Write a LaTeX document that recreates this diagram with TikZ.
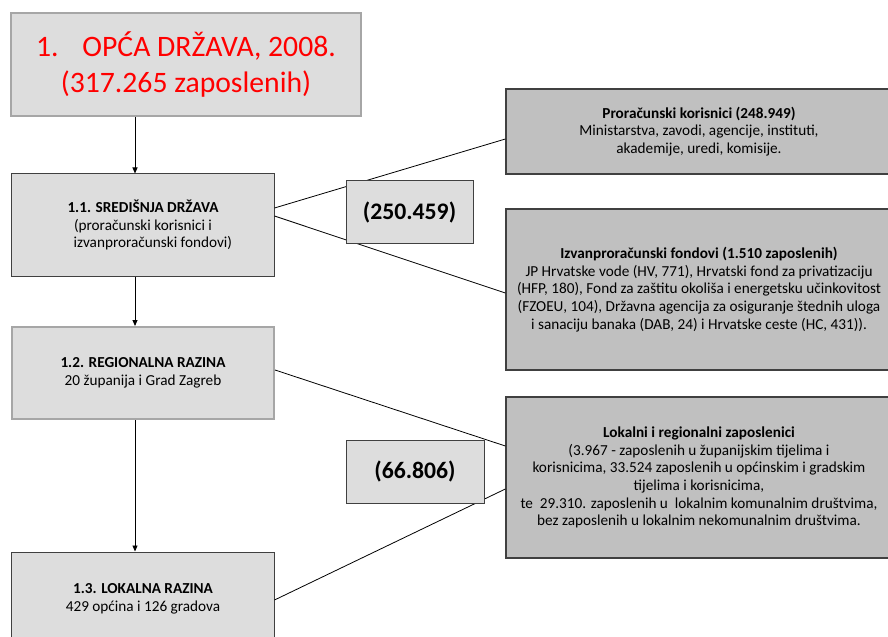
\documentclass[tikz,border=0pt]{standalone}
\usepackage{fontspec}
\setmainfont{Carlito}
\usepackage{xcolor}
\usetikzlibrary{arrows.meta}

\definecolor{boxlight}{HTML}{DDDDDD}
\definecolor{boxdark}{HTML}{C0C0C0}
\definecolor{edgegray}{HTML}{A6A6A6}
\definecolor{edgedark}{HTML}{404040}

\begin{document}
\begin{tikzpicture}[x=1bp,y=-1bp,
    lightbox/.style={draw=edgedark, line width=1bp, fill=boxlight, inner sep=0pt,
      align=center, font=\fontsize{15.3}{17.8}\selectfont},
    greybox/.style={lightbox, draw=edgegray, line width=2bp},
    sidebox/.style={lightbox, fill=boxdark, line width=1.3bp},
    sumbox/.style={lightbox, font=\fontsize{23.8}{28}\selectfont\bfseries},
    link/.style={line width=0.8bp, black},
    down/.style={line width=0.9bp, -{Triangle[length=6bp,width=5bp]}}]
    \useasboundingbox (0,0) rectangle (888,637);
    \coordinate (col) at (135,0);
    % main column
    \node[greybox, minimum width=350bp, minimum height=103bp,
      font=\fontsize{29.8}{37}\selectfont, text=red] (opca) at (186,64.5)
      {1.\hspace{0.8em}OPĆA DRŽAVA, 2008.\\(317.265 zaposlenih)};
    \node[lightbox, minimum width=262bp, minimum height=102bp] (sdr) at (143,225)
      {\textbf{1.1. SREDIŠNJA DRŽAVA}\\(proračunski korisnici i\\\hspace*{1.3em}izvanproračunski fondovi)};
    \node[greybox, minimum width=262bp, minimum height=92bp] (reg) at (143,373)
      {\textbf{1.2. REGIONALNA RAZINA}\\20 županija i Grad Zagreb};
    \node[lightbox, minimum width=262bp, minimum height=93bp] (lok) at (143,598.5)
      {\textbf{1.3. LOKALNA RAZINA}\\429 općina i 126 gradova};
    % right column
    \node[sidebox, minimum width=386bp, minimum height=85bp] (prk) at (699,131.5)
      {\textbf{Proračunski korisnici (248.949)}\\Ministarstva, zavodi, agencije, instituti,\\akademije, uredi, komisije.};
    \node[sidebox, minimum width=386bp, minimum height=161bp] (ivf) at (699,289.5)
      {\textbf{Izvanproračunski fondovi (1.510 zaposlenih)}\\
       JP Hrvatske vode (HV, 771), Hrvatski fond za privatizaciju\\
       (HFP, 180), Fond za zaštitu okoliša i energetsku učinkovitost\\
       (FZOEU, 104), Državna agencija za osiguranje štednih uloga\\
       i sanaciju banaka (DAB, 24) i Hrvatske ceste (HC, 431)).};
    \node[sidebox, minimum width=386bp, minimum height=161bp] (lrz) at (699,477.5)
      {\textbf{Lokalni i regionalni zaposlenici}\\
       (3.967 - zaposlenih u županijskim tijelima i\\
       korisnicima, 33.524 zaposlenih u općinskim i gradskim\\
       tijelima i korisnicima,\\
       te\ \ 29.310. zaposlenih u\ \ lokalnim komunalnim društvima,\\
       bez zaposlenih u lokalnim nekomunalnim društvima.};
    % arrows
    \draw[down] (opca.south -| col) -- (sdr.north -| col);
    \draw[down] (sdr.south -| col) -- (reg.north -| col);
    \draw[down] (reg.south -| col) -- (lok.north -| col);
    % fan lines
    \draw[link] ([yshift=17bp]sdr.east) -- ([yshift=-7.5bp]prk.west);
    \draw[link] ([yshift=9bp]sdr.east) -- ([yshift=-3.5bp]ivf.west);
    \draw[link] ([yshift=3bp]reg.east) -- ([yshift=31.5bp]lrz.west);
    \draw[link] ([yshift=-1.5bp]lok.east) -- ([yshift=-11.5bp]lrz.west);
    % totals
    \node[sumbox, minimum width=127bp, minimum height=62bp] (sum1) at (409.5,212) {(250.459)};
    \node[sumbox, minimum width=138bp, minimum height=63bp] (sum2) at (415,471.5) {(66.806)};
\end{tikzpicture}
\end{document}
